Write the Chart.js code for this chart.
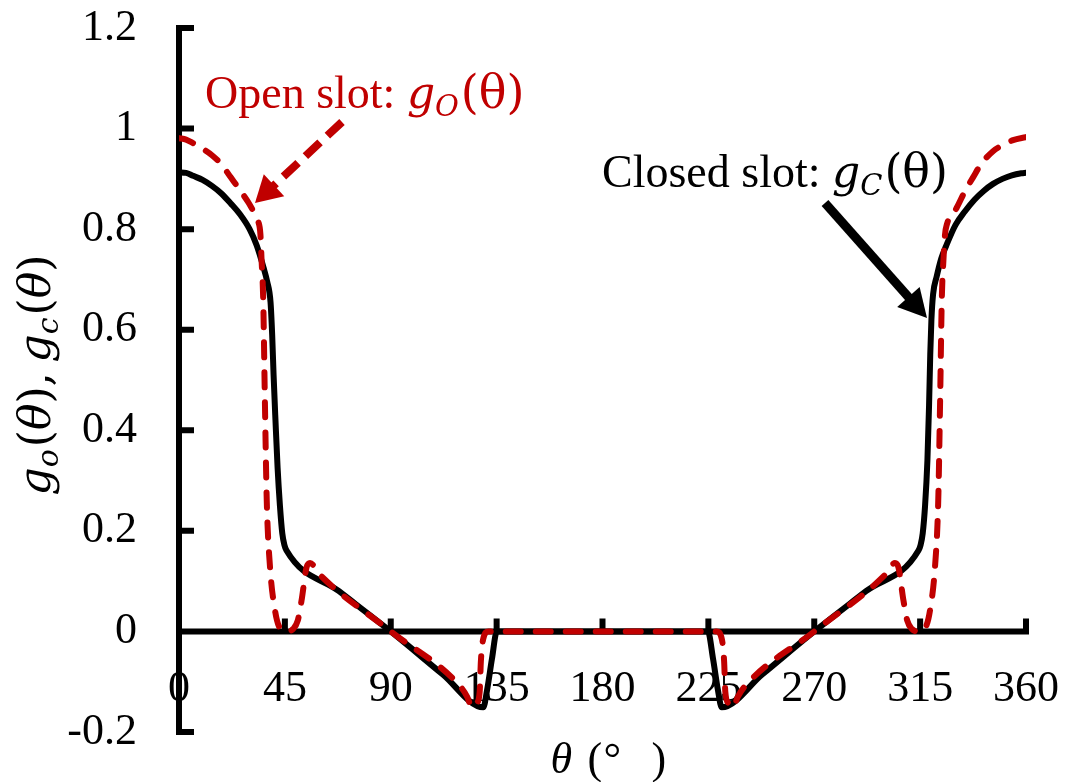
<!DOCTYPE html>
<html>
<head>
<meta charset="utf-8">
<script src="https://cdn.jsdelivr.net/npm/chart.js@4.4.0/dist/chart.umd.min.js"></script>
<style>
  html, body { margin: 0; padding: 0; background: #fff; }
  #wrap { width: 1065px; height: 782px; position: relative; }
  canvas { display: block; }
</style>
</head>
<body>
<div id="wrap"><canvas id="chart" width="1065" height="782"></canvas></div>
<script>
// Closed slot g_C(θ)
const thetaClosed = [0, 3, 6, 10, 14, 18, 22, 26, 30, 33,
  35.9, 37.5, 38.9, 39.6, 40.2, 41, 41.9, 42.9, 43.9, 44.8,
  45.7, 68, 90, 112, 129.3, 131, 133, 135.1, 180, 224.8,
  227, 229, 230.7, 248, 270, 292, 314.3, 315.2, 316.1, 317.1,
  318.1, 318.8, 319.3, 319.8, 320.5, 322, 324, 326, 330, 334,
  338, 342, 346, 350, 354, 358, 360];
const gClosed = [0.913, 0.912, 0.906, 0.898, 0.886, 0.871, 0.851, 0.829, 0.800, 0.768,
  0.724, 0.695, 0.655, 0.59, 0.51, 0.42, 0.326, 0.25, 0.195, 0.172,
  0.161, 0.080, 0.0, -0.085, -0.151, -0.115, -0.055, 0, 0, 0,
  -0.055, -0.115, -0.151, -0.085, 0, 0.080, 0.161, 0.172, 0.195, 0.25,
  0.34, 0.45, 0.55, 0.62, 0.67, 0.705, 0.742, 0.766, 0.808, 0.835,
  0.858, 0.876, 0.89, 0.9, 0.907, 0.911, 0.912];

// Open slot g_O(θ)
const thetaOpen = [0, 3, 6, 10, 14, 18, 22, 26, 29.5, 32,
  33.7, 34.6, 35.1, 35.8, 36.5, 37.3, 38.7, 40.8, 42.5, 45.5,
  48.5, 50.5, 52.1, 54.2, 55.7, 60, 90, 120, 122.5, 124.5,
  126.5, 127.8, 128.3, 129.3, 131.5, 180, 228.5, 230.7, 231.7, 232.2,
  233.5, 235.5, 237.5, 240, 270, 300, 304.3, 305.8, 307.9, 309.5,
  311.5, 314.5, 317.5, 319.2, 321.3, 322.7, 323.5, 324.2, 324.9, 325.6,
  326.4, 330.5, 334, 337.5, 341, 346, 350, 354.5, 360];
const gOpen = [0.981, 0.978, 0.971, 0.960, 0.947, 0.929, 0.903, 0.877, 0.853, 0.832,
  0.815, 0.79, 0.738, 0.659, 0.46, 0.26, 0.127, 0.042, 0.01, 0.0,
  0.005, 0.022, 0.062, 0.127, 0.136, 0.112, 0.0, -0.112, -0.13, -0.151,
  -0.143, -0.12, -0.06, -0.015, 0.0, 0.0, 0.0, -0.015, -0.06, -0.12,
  -0.143, -0.151, -0.13, -0.112, 0.0, 0.112, 0.136, 0.127, 0.062, 0.022,
  0.005, 0.0, 0.01, 0.042, 0.127, 0.26, 0.46, 0.659, 0.738, 0.79,
  0.81, 0.842, 0.875, 0.903, 0.93, 0.955, 0.967, 0.977, 0.983];

const xTickLabels = ['0', '45', '90', '135', '180', '225', '270', '315', '360'];
const yTickLabels = ['-0.2', '0', '0.2', '0.4', '0.6', '0.8', '1', '1.2'];

const RED = '#C00000';
const SERIF = 'Liberation Serif';
const MATH = 'DejaVu Serif';

function toPoints(xs, ys) { return xs.map((x, i) => ({ x: x, y: ys[i] })); }

// Draw a run of text pieces (font / baseline shift per piece), starting at x
function drawRun(ctx, parts, x, y, color) {
  ctx.fillStyle = color;
  ctx.textBaseline = 'alphabetic';
  ctx.textAlign = 'left';
  let cx = x;
  parts.forEach(p => {
    ctx.font = p.font;
    ctx.fillText(p.t, cx, y + (p.dy || 0));
    cx += ctx.measureText(p.t).width + (p.gap || 0);
  });
  return cx;
}
function runWidth(ctx, parts) {
  let w = 0;
  parts.forEach(p => { ctx.font = p.font; w += ctx.measureText(p.t).width + (p.gap || 0); });
  return w;
}

function arrow(ctx, x1, y1, x2, y2, color, width, dash, headLen, headHalf) {
  const dx = x2 - x1, dy = y2 - y1, len = Math.hypot(dx, dy);
  const ux = dx / len, uy = dy / len;
  const bx = x2 - ux * headLen, by = y2 - uy * headLen;
  ctx.save();
  ctx.strokeStyle = color; ctx.fillStyle = color;
  ctx.lineWidth = width; ctx.lineCap = 'butt';
  ctx.setLineDash(dash || []);
  ctx.beginPath(); ctx.moveTo(x1, y1); ctx.lineTo(bx + ux * 2, by + uy * 2); ctx.stroke();
  ctx.setLineDash([]);
  ctx.beginPath();
  ctx.moveTo(x2, y2);
  ctx.lineTo(bx - uy * headHalf, by + ux * headHalf);
  ctx.lineTo(bx + uy * headHalf, by - ux * headHalf);
  ctx.closePath(); ctx.fill();
  ctx.restore();
}

// Axis lines through the origin with inward tick marks
const axesPlugin = {
  id: 'slotAxes',
  beforeDatasetsDraw(chart) {
    const { ctx } = chart;
    const xs = chart.scales.x, ys = chart.scales.y;
    const xL = xs.getPixelForValue(xs.min), xR = xs.getPixelForValue(xs.max);
    const yT = ys.getPixelForValue(ys.max), yB = ys.getPixelForValue(ys.min);
    const y0 = ys.getPixelForValue(0);
    ctx.save();
    ctx.strokeStyle = '#000'; ctx.lineWidth = 6; ctx.lineCap = 'butt';
    ctx.beginPath();
    ctx.moveTo(xL, yT - 3); ctx.lineTo(xL, yB + 3);
    ctx.moveTo(xL, y0); ctx.lineTo(xR + 3, y0);
    ys.ticks.forEach(t => {
      const p = ys.getPixelForValue(t.value);
      ctx.moveTo(xL, p); ctx.lineTo(xL + 15, p);
    });
    xs.ticks.forEach(t => {
      if (t.value === xs.min) return;
      const p = xs.getPixelForValue(t.value);
      ctx.moveTo(p, y0); ctx.lineTo(p, y0 - 13);
    });
    ctx.stroke();
    ctx.restore();
  },
  afterDraw(chart) {
    const { ctx, chartArea } = chart;
    ctx.save();

    // y-axis title: g_o(θ), g_c(θ)
    const yt = [
      { t: 'g', font: 'italic 44px "' + MATH + '"' },
      { t: 'o', font: 'italic 30px "' + MATH + '"', dy: 8, gap: 2 },
      { t: '(', font: '44px "' + MATH + '"' },
      { t: 'θ', font: 'italic 44px "' + MATH + '"' },
      { t: '),', font: '44px "' + MATH + '"', gap: 10 },
      { t: 'g', font: 'italic 44px "' + MATH + '"' },
      { t: 'c', font: 'italic 30px "' + MATH + '"', dy: 8, gap: 2 },
      { t: '(', font: '44px "' + MATH + '"' },
      { t: 'θ', font: 'italic 44px "' + MATH + '"' },
      { t: ')', font: '44px "' + MATH + '"' }
    ];
    ctx.save();
    ctx.translate(50, 375);
    ctx.rotate(-Math.PI / 2);
    drawRun(ctx, yt, -runWidth(ctx, yt) / 2, 0, '#000');
    ctx.restore();

    // x-axis title: θ (°  )
    const cx = (chartArea.left + chartArea.right) / 2;
    ctx.fillStyle = '#000'; ctx.textBaseline = 'alphabetic'; ctx.textAlign = 'left';
    ctx.font = 'italic 44px "' + SERIF + '"';
    ctx.fillText('θ', cx - 52, 773);
    ctx.font = '44px "' + SERIF + '"';
    ctx.fillText('(', cx - 15, 773);
    ctx.fillText('°', cx + 1, 773);
    ctx.fillText(')', cx + 49, 773);

    // annotation: open slot
    drawRun(ctx, [
      { t: 'Open slot: ', font: '46px "' + SERIF + '"' },
      { t: 'g', font: 'italic 44px "' + MATH + '"' },
      { t: 'O', font: 'italic 29px "' + MATH + '"', dy: 8, gap: 2 },
      { t: '(θ)', font: '46px "' + MATH + '"' }
    ], 205, 108, RED);
    arrow(ctx, 342, 122, 255, 203, RED, 8, [20, 10], 26, 15);

    // annotation: closed slot
    drawRun(ctx, [
      { t: 'Closed slot: ', font: '46px "' + SERIF + '"' },
      { t: 'g', font: 'italic 44px "' + MATH + '"' },
      { t: 'C', font: 'italic 29px "' + MATH + '"', dy: 8, gap: 2 },
      { t: '(θ)', font: '46px "' + MATH + '"' }
    ], 602, 187, '#000');
    arrow(ctx, 825, 203, 927, 318, '#000', 9, null, 28, 15);

    ctx.restore();
  }
};

Chart.defaults.font.family = SERIF;
Chart.defaults.color = '#000';

new Chart(document.getElementById('chart'), {
  type: 'line',
  data: {
    datasets: [
      {
        label: 'Open slot',
        data: toPoints(thetaOpen, gOpen),
        borderColor: RED,
        borderWidth: 6,
        borderDash: [15, 15],
        borderCapStyle: 'round',
        borderJoinStyle: 'round',
        cubicInterpolationMode: 'monotone',
        pointRadius: 0,
        fill: false,
        order: 0
      },
      {
        label: 'Closed slot',
        data: toPoints(thetaClosed, gClosed),
        borderColor: '#000',
        borderWidth: 6,
        borderCapStyle: 'round',
        borderJoinStyle: 'round',
        cubicInterpolationMode: 'monotone',
        pointRadius: 0,
        fill: false,
        order: 1
      }
    ]
  },
  options: {
    responsive: false,
    animation: false,
    layout: { padding: { left: 0, right: 39, top: 28, bottom: 50 } },
    plugins: { legend: { display: false }, tooltip: { enabled: false } },
    scales: {
      x: {
        type: 'linear',
        min: 0, max: 360,
        position: { y: 0 },
        grid: { display: false, drawTicks: false },
        border: { display: false },
        ticks: {
          stepSize: 45,
          padding: 32,
          maxRotation: 0,
          autoSkip: false,
          font: { family: SERIF, size: 44 },
          color: '#000',
          callback: (v, i) => xTickLabels[i]
        },
        afterFit(scale) { scale.paddingLeft = 0; scale.paddingRight = 0; }
      },
      y: {
        type: 'linear',
        min: -0.2, max: 1.2,
        grid: { display: false, drawTicks: false },
        border: { display: false },
        ticks: {
          stepSize: 0.2,
          padding: 42,
          font: { family: SERIF, size: 44 },
          color: '#000',
          callback: (v, i) => yTickLabels[i]
        },
        afterFit(scale) { scale.width = 179; scale.paddingTop = 0; scale.paddingBottom = 0; }
      }
    }
  },
  plugins: [axesPlugin]
});
</script>
</body>
</html>
